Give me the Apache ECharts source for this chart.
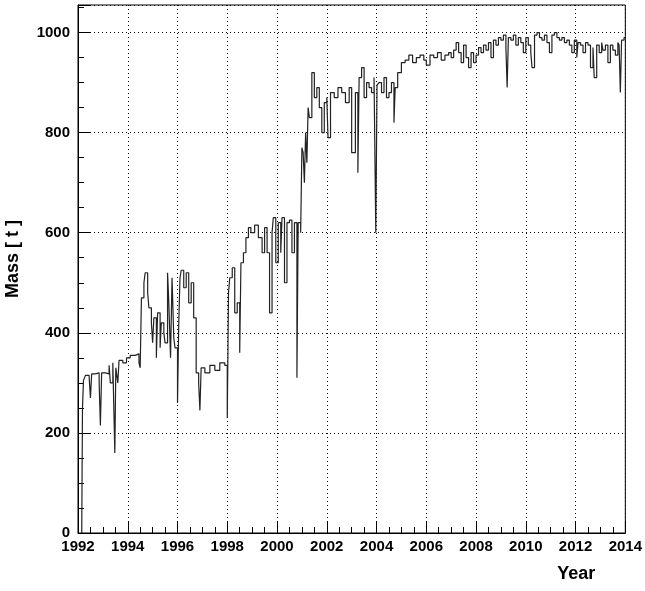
<!DOCTYPE html>
<html>
<head>
<meta charset="utf-8">
<script src="https://cdn.jsdelivr.net/npm/echarts@6/dist/echarts.min.js"></script>
<style>
  html, body { margin: 0; padding: 0; background: #fff; }
  #chart { width: 645px; height: 591px; }
</style>
</head>
<body>
<div id="chart"></div>
<script>
// 读图估计的数据（年份, 质量 t）
const years = [
  1992.15, 1992.18, 1992.22, 1992.3, 1992.45, 1992.5, 1992.55, 1992.7, 1992.85, 1992.9, 1992.95, 1993.1, 1993.25, 1993.3, 1993.4, 1993.48, 1993.52, 1993.6, 1993.65, 1993.8, 1993.95, 1994.1, 1994.3, 1994.45, 1994.5,
  1994.55, 1994.65, 1994.7, 1994.8, 1994.85, 1994.95, 1995.0, 1995.05, 1995.15, 1995.2, 1995.3, 1995.35, 1995.45, 1995.5, 1995.6, 1995.65, 1995.72, 1995.78, 1995.85, 1995.9, 1996.0, 1996.05, 1996.1, 1996.15, 1996.25, 1996.35, 1996.45, 1996.55, 1996.65, 1996.75, 1996.85, 1996.9, 1996.95,
  1997.1, 1997.3, 1997.5, 1997.7, 1997.9, 1998.0, 1998.05, 1998.1, 1998.2, 1998.3, 1998.4, 1998.5, 1998.55, 1998.65, 1998.75, 1998.85, 1998.95, 1999.1, 1999.25, 1999.4, 1999.5, 1999.6, 1999.7, 1999.8, 1999.85, 1999.95, 2000.05, 2000.15, 2000.2, 2000.3, 2000.4, 2000.5, 2000.6, 2000.7, 2000.8, 2000.85, 2000.95,
  2001.0, 2001.05, 2001.1, 2001.15, 2001.2, 2001.25, 2001.3, 2001.4, 2001.5, 2001.6, 2001.7, 2001.8, 2001.9, 2002.0, 2002.05, 2002.15, 2002.3, 2002.45, 2002.6, 2002.75, 2002.9, 2003.0, 2003.15, 2003.25, 2003.3, 2003.4, 2003.5, 2003.6, 2003.7, 2003.8, 2003.9, 2003.97, 2004.02, 2004.1, 2004.2, 2004.3, 2004.4, 2004.5, 2004.6, 2004.7, 2004.75, 2004.85, 2005.0,
  2005.15, 2005.3, 2005.45, 2005.6, 2005.75, 2005.9, 2006.0, 2006.15, 2006.3, 2006.45, 2006.6, 2006.75, 2006.9, 2007.0, 2007.1, 2007.2, 2007.3, 2007.4, 2007.5, 2007.6, 2007.7, 2007.8, 2007.9, 2008.0, 2008.1, 2008.2, 2008.3, 2008.4, 2008.5, 2008.6, 2008.7, 2008.8, 2008.9, 2009.0, 2009.1, 2009.2, 2009.25, 2009.3, 2009.4, 2009.5, 2009.6, 2009.7, 2009.8, 2009.9,
  2010.0, 2010.1, 2010.2, 2010.25, 2010.35, 2010.45, 2010.55, 2010.65, 2010.75, 2010.85, 2010.95, 2011.05, 2011.15, 2011.25, 2011.35, 2011.45, 2011.55, 2011.65, 2011.75, 2011.85, 2011.95, 2012.05, 2012.1, 2012.2, 2012.3, 2012.4, 2012.5, 2012.6, 2012.7, 2012.75, 2012.85, 2012.95, 2013.05, 2013.1, 2013.2, 2013.3, 2013.4, 2013.5, 2013.6, 2013.7, 2013.75, 2013.8, 2013.85, 2013.95, 2014.0
];
const masses = [
  0, 250, 305, 315, 310, 270, 318, 320, 300, 215, 320, 318, 335, 300, 340, 160, 330, 300, 345, 340, 350, 355, 358, 340, 330,
  470, 500, 520, 480, 450, 420, 380, 430, 350, 440, 370, 420, 400, 380, 520, 460, 350, 510, 390, 370, 260, 420, 510, 525, 490, 520, 460, 500, 430, 320, 300, 245, 330,
  320, 335, 325, 340, 335, 230, 480, 510, 530, 440, 460, 360, 540, 560, 590, 610, 600, 615, 590, 560, 610, 560, 440, 600, 630, 540, 620, 560, 630, 500, 620, 625, 560, 620, 310, 620, 600,
  770, 760, 700, 800, 740, 850, 830, 920, 870, 890, 850, 800, 860, 870, 790, 880, 870, 890, 880, 860, 890, 760, 880, 720, 910, 930, 870, 900, 890, 880, 910, 600, 895, 900, 880, 910, 870, 880, 900, 820, 890, 920, 940,
  945, 955, 940, 950, 955, 945, 935, 955, 950, 960, 945, 955, 960, 950, 965, 980, 960, 940, 975, 950, 930, 960, 940, 955, 970, 960, 975, 965, 980, 950, 985, 975, 990, 985, 995, 970, 890, 990, 985, 995, 975, 990, 980, 960,
  990, 975, 960, 930, 995, 1000, 990, 985, 995, 980, 960, 995, 1000, 990, 985, 990, 980, 985, 975, 960, 985, 950, 980, 975, 960, 980, 975, 930, 970, 910, 975, 960, 980, 965, 975, 940, 975, 965, 955, 980, 975, 880, 985, 990, 990
];

const myChart = echarts.init(document.getElementById('chart'));
const font = 'Liberation Sans';
let option = {
  animation: false,
  textStyle: { fontFamily: font },
  grid: {
    left: 78,
    right: 19,
    top: 5,
    bottom: 58,
    show: true,
    borderColor: '#000',
    borderWidth: 1
  },
  xAxis: {
    type: 'value',
    min: 1992,
    max: 2014,
    interval: 2,
    name: 'Year',
    nameLocation: 'end',
    nameGap: 0,
    nameTextStyle: { fontSize: 18, fontWeight: 'bold', color: '#000', align: 'right', verticalAlign: 'top', padding: [32, 30, 0, 0] },
    axisLine: { lineStyle: { color: '#000' } },
    axisTick: { inside: true, length: 12, lineStyle: { color: '#000' } },
    minorTick: { show: true, splitNumber: 4, length: 6, lineStyle: { color: '#000' } },
    axisLabel: { color: '#000', fontSize: 15, fontWeight: 'bold', margin: 6, formatter: v => String(v) },
    splitLine: { show: true, lineStyle: { color: '#000', type: [1, 3], width: 1 } }
  },
  yAxis: {
    type: 'value',
    min: 0,
    max: 1055,
    interval: 200,
    name: 'Mass [ t ]',
    nameLocation: 'end',
    nameRotate: 90,
    nameGap: 0,
    nameTextStyle: { fontSize: 18, fontWeight: 'bold', color: '#000', align: 'right', verticalAlign: 'bottom', padding: [0, 215, 56, 0] },
    axisLine: { lineStyle: { color: '#000' } },
    axisTick: { inside: true, length: 12, lineStyle: { color: '#000' } },
    minorTick: { show: true, splitNumber: 4, length: 6, lineStyle: { color: '#000' } },
    axisLabel: { color: '#000', fontSize: 15, fontWeight: 'bold', margin: 8, showMaxLabel: false, formatter: v => String(v) },
    splitLine: { show: true, lineStyle: { color: '#000', type: [1, 3], width: 1 } }
  },
  series: [{
    type: 'line',
    step: 'end',
    showSymbol: false,
    lineStyle: { color: '#222', width: 1.2 },
    data: years.map((y, i) => [y, masses[i]])
  }]
};
myChart.setOption(option);
window.addEventListener('resize', function () {
  myChart.resize();
});
</script>
</body>
</html>
